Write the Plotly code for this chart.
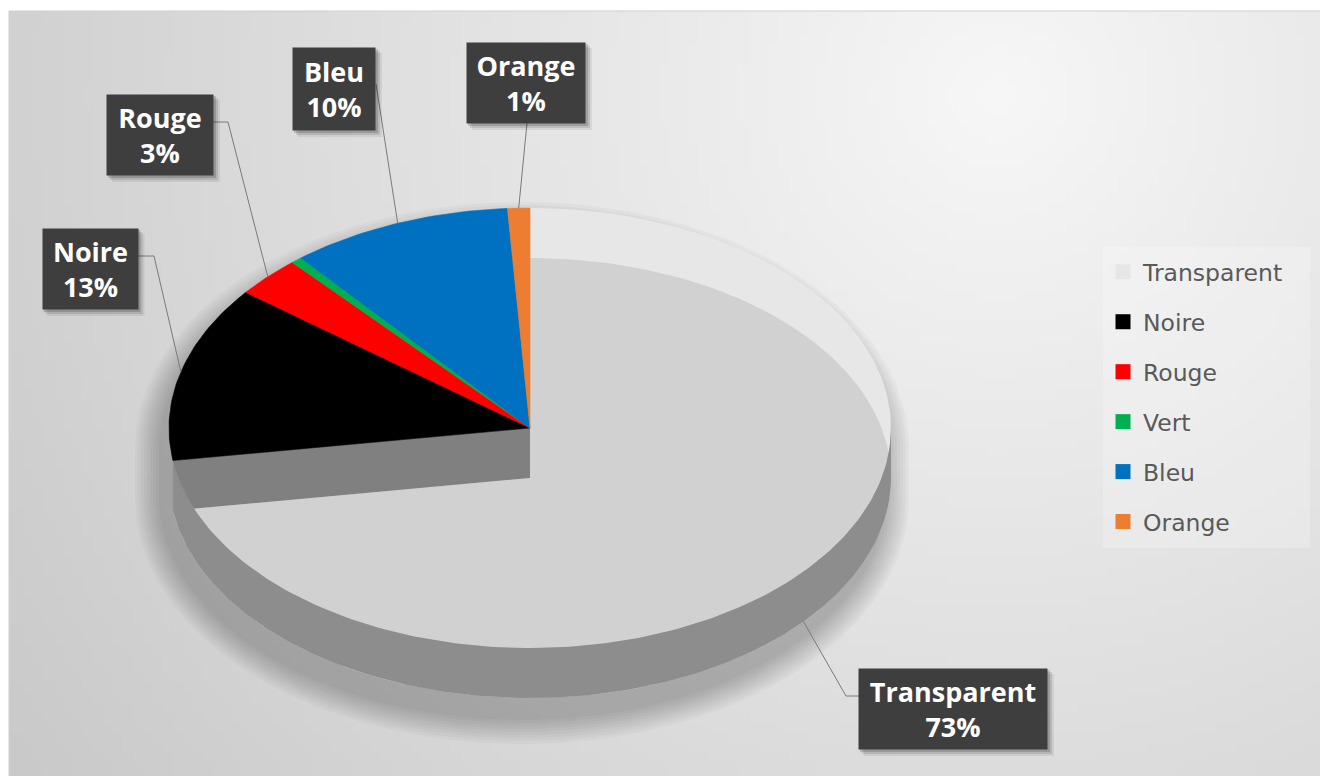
import base64
import struct
import zlib

import numpy as np
import plotly.graph_objects as go

# ---- data -------------------------------------------------------------
categories = ["Transparent", "Noire", "Rouge", "Vert", "Bleu", "Orange"]
shares = [73, 13, 3, 0.5, 10, 1]
colors = ["#e6e6e6", "#000000", "#ff0000", "#00b050", "#0070c0", "#ed7d31"]
labelled = ["Transparent", "Noire", "Rouge", "Bleu", "Orange"]

# ---- figure geometry (axes are in pixels, y pointing down) -------------
W, H = 1320, 776
CX, CY = 530, 428          # centre of the top face
RX, RY = 361, 220          # radii of the top ellipse
DEPTH = 50                 # thickness of the disc

# label boxes: centre x, centre y, width, height
boxes = {
    "Transparent": (953, 709, 188, 80),
    "Noire": (90, 269, 95, 80),
    "Rouge": (160, 135, 106, 80),
    "Bleu": (334, 89, 82, 82),
    "Orange": (526, 83, 118, 80),
}
# leader line start points (box edge, optional elbow)
leader_start = {
    "Transparent": [(860, 696), (846, 696)],
    "Noire": [(138, 256), (154, 256)],
    "Rouge": [(213, 122), (228, 122)],
    "Bleu": [(376, 84)],
    "Orange": [(527, 123)],
}

total = float(sum(shares))
edges = np.concatenate([[0.0], np.cumsum(shares)]) / total * 2 * np.pi


def ellipse_pts(t0, t1, dy=0.0, ex=0.0, ey=0.0, ox=0.0, n=360):
    k = max(int(n * abs(t1 - t0) / (2 * np.pi)) + 2, 2)
    t = np.linspace(t0, t1, k)
    return (CX + ox + (RX + ex) * np.sin(t),
            CY + dy - (RY + ey) * np.cos(t))


def silhouette(e, ox, oy):
    x1, y1 = ellipse_pts(-np.pi / 2, np.pi / 2, dy=oy, ex=e, ey=e, ox=ox)
    x2, y2 = ellipse_pts(np.pi / 2, 3 * np.pi / 2, dy=DEPTH + oy, ex=e, ey=e, ox=ox)
    return np.concatenate([x1, x2]), np.concatenate([y1, y2])


def poly(x, y, fill, width=0.0, opacity=1.0):
    return go.Scatter(
        x=list(x), y=list(y), mode="lines", fill="toself", fillcolor=fill,
        line=dict(color=fill, width=width), opacity=opacity,
        hoverinfo="skip", showlegend=False,
    )


def gray_png(arr):
    h, w = arr.shape
    raw = b"".join(b"\x00" + bytes(row) for row in arr.astype(np.uint8))

    def chunk(tag, data):
        body = tag + data
        return struct.pack(">I", len(data)) + body + struct.pack(">I", zlib.crc32(body) & 0xFFFFFFFF)

    png = (b"\x89PNG\r\n\x1a\n"
           + chunk(b"IHDR", struct.pack(">IIBBBBB", w, h, 8, 0, 0, 0, 0))
           + chunk(b"IDAT", zlib.compress(raw, 9))
           + chunk(b"IEND", b""))
    return "data:image/png;base64," + base64.b64encode(png).decode()


# soft radial background, bright towards the upper right
gx, gy = np.meshgrid(np.linspace(9, W, 132), np.linspace(11, H, 78))
dist = np.hypot(gx - 1000, gy - 90)
bg = np.clip(247 - 0.038 * dist, 198, 248)

fig = go.Figure()

# drop shadow under the disc (falls down and to the left)
for e in range(26, 0, -3):
    sx, sy = silhouette(e, -8, 20)
    fig.add_trace(poly(sx, sy, "rgba(0,0,0,1)", opacity=0.027))

# the see-through "Transparent" slice: inner wall, floor, side walls
t0, t1 = edges[0], edges[1]
ax_, ay_ = ellipse_pts(t0, t1)
fig.add_trace(poly([CX, *ax_, CX], [CY, *ay_, CY], "#e7e7e7"))
fx, fy = ellipse_pts(t0, t1, dy=DEPTH)
fig.add_trace(poly([CX, *fx, CX], [CY + DEPTH, *fy, CY + DEPTH], "#d1d1d1"))
ex_, ey_ = ellipse_pts(t1, t1)
fig.add_trace(poly([CX, ex_[0], ex_[0], CX],
                   [CY, ey_[0], ey_[0] + DEPTH, CY + DEPTH], "#808080"))
wx1, wy1 = ellipse_pts(np.pi / 2, t1)
wx2, wy2 = ellipse_pts(t1, np.pi / 2, dy=DEPTH)
fig.add_trace(poly([*wx1, *wx2], [*wy1, *wy2], "#8d8d8d"))

# top faces of the coloured slices
for i in range(1, len(categories)):
    sx, sy = ellipse_pts(edges[i], edges[i + 1])
    fig.add_trace(poly([CX, *sx, CX], [CY, *sy, CY], colors[i], width=0.6))

# legend entries
for name, col in zip(categories, colors):
    fig.add_trace(go.Scatter(
        x=[None], y=[None], mode="markers", name=name, legendgroup=name,
        marker=dict(symbol="square", size=15, color=col),
    ))

# data labels with leader lines
shapes = []
annotations = []
for name in labelled:
    i = categories.index(name)
    mid = (edges[i] + edges[i + 1]) / 2
    dy = DEPTH if name == "Transparent" else 0.0
    px, py = ellipse_pts(mid, mid, dy=dy)
    pts = leader_start[name] + [(px[0], py[0])]
    path = "M " + " L ".join(f"{x:.1f},{y:.1f}" for x, y in pts)
    shapes.append(dict(type="path", path=path, xref="x", yref="y",
                       line=dict(color="#7a7a7a", width=1), layer="above"))
    bx, by, bw, bh = boxes[name]
    for off, alpha in ((6, 0.07), (4, 0.11), (2, 0.16)):
        shapes.append(dict(type="rect", xref="x", yref="y",
                           x0=bx - bw / 2 + off - 1, x1=bx + bw / 2 + off + 1,
                           y0=by - bh / 2 + off - 1, y1=by + bh / 2 + off + 1,
                           fillcolor=f"rgba(0,0,0,{alpha})", line=dict(width=0),
                           layer="above"))
    pct = round(100 * shares[i] / total)
    annotations.append(dict(
        x=bx, y=by, xref="x", yref="y", showarrow=False,
        text=f"{name}<br>{pct}%", align="center", valign="middle",
        width=bw, height=bh, borderpad=0, bgcolor="#3e3e3e",
        font=dict(family="Open Sans", size=27, color="#ffffff", weight="bold"),
    ))

# legend panel and chart area outline
shapes.append(dict(type="rect", xref="x", yref="y", x0=1103, y0=247, x1=1310, y1=548,
                   fillcolor="rgba(255,255,255,0.22)", line=dict(width=0), layer="below"))
shapes.append(dict(type="rect", xref="x", yref="y", x0=9, y0=11, x1=W + 2, y1=H + 2,
                   line=dict(color="#cfcfcf", width=1), layer="below"))

fig.update_layout(
    width=W, height=H, autosize=False,
    margin=dict(l=0, r=0, t=0, b=0, pad=0),
    paper_bgcolor="#ffffff", plot_bgcolor="rgba(0,0,0,0)",
    xaxis=dict(range=[0, W], visible=False, fixedrange=True),
    yaxis=dict(range=[H, 0], visible=False, fixedrange=True),
    images=[dict(source=gray_png(bg), xref="paper", yref="paper",
                 x=9 / W, y=1 - 11 / H, sizex=(W - 9) / W, sizey=(H - 11) / H,
                 xanchor="left", yanchor="top", sizing="stretch", layer="below")],
    shapes=shapes,
    annotations=annotations,
    legend=dict(
        x=1103 / W, y=1 - 250 / H, xanchor="left", yanchor="top",
        bgcolor="rgba(0,0,0,0)", borderwidth=0,
        font=dict(family="DejaVu Sans", size=23.5, color="#595959"),
        tracegroupgap=16.4, itemsizing="trace", traceorder="grouped",
    ),
    showlegend=True,
)

fig.write_html("out.html")
